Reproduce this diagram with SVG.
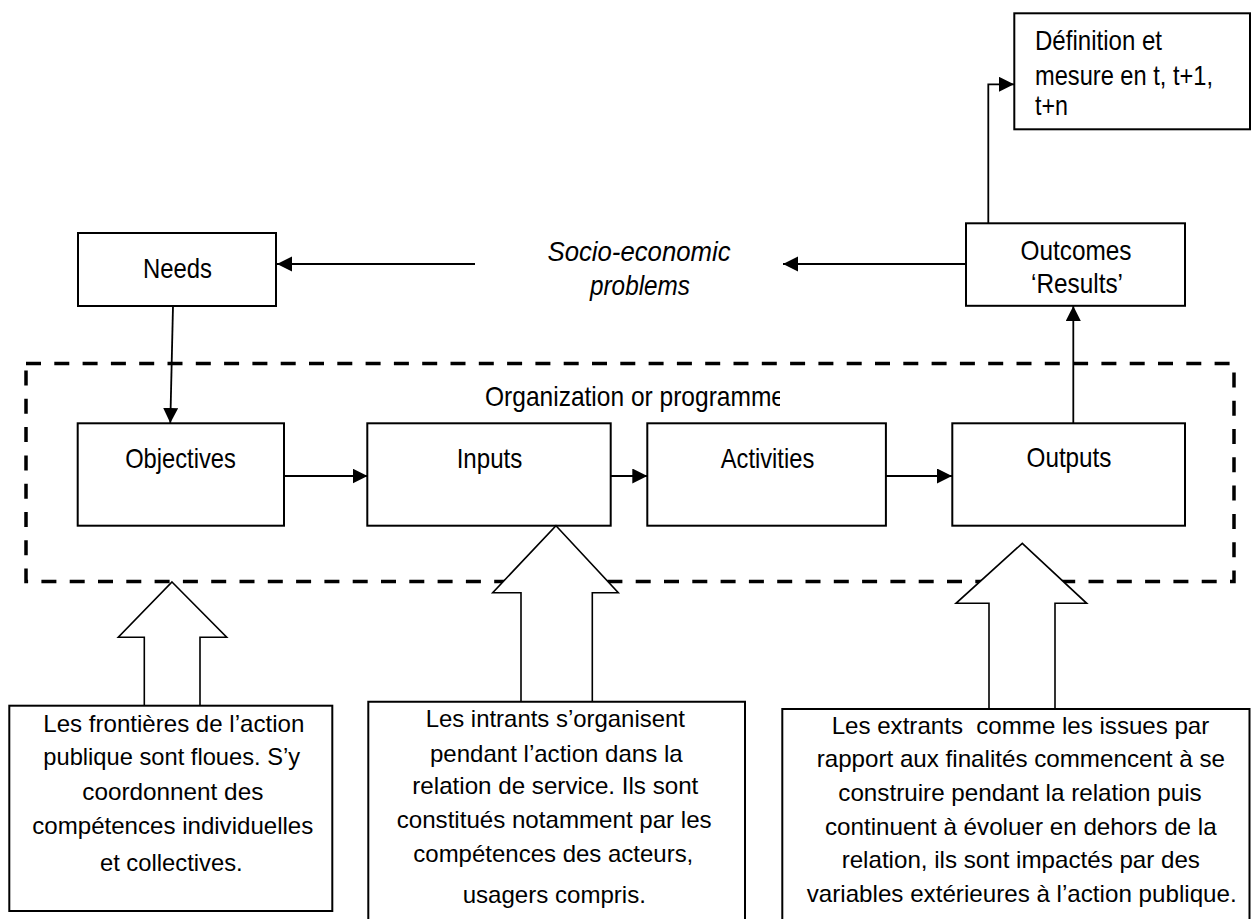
<svg xmlns="http://www.w3.org/2000/svg" width="1251" height="919" viewBox="0 0 1251 919">
<style>
.box{fill:#fff;stroke:#000;stroke-width:2}
.lbl{font-family:"Liberation Sans",Arial,sans-serif;font-size:28px;fill:#000;text-anchor:middle}
.txt{font-family:"Liberation Sans",Arial,sans-serif;font-size:24px;fill:#000;text-anchor:middle}
.con{fill:none;stroke:#000;stroke-width:1.8}
.blk{fill:#fff;stroke:#000;stroke-width:1.6;stroke-linejoin:miter}
</style>
<defs>
<marker id="ah" markerUnits="userSpaceOnUse" markerWidth="16" markerHeight="16" refX="15" refY="7.5" orient="auto"><path d="M0,0 L15,7.5 L0,15 Z" fill="#000"/></marker>
<clipPath id="orgclip"><rect x="0" y="370" width="780" height="50"/></clipPath>
</defs>
<rect width="1251" height="919" fill="#fff"/>

<g id="programme">
<rect x="26" y="363.5" width="1208" height="218" fill="none" stroke="#000" stroke-width="3.5" stroke-dasharray="15 13.3"/>
<text class="lbl" x="485" y="406" style="text-anchor:start" textLength="300" lengthAdjust="spacingAndGlyphs" clip-path="url(#orgclip)">Organization or programme</text>
</g>

<g id="connectors">
<path class="con" d="M475,264 H277" marker-end="url(#ah)"/>
<path class="con" d="M966,264 H783" marker-end="url(#ah)"/>
<path class="con" d="M173,306 L170.3,423" marker-end="url(#ah)"/>
<path class="con" d="M284,476 H367.5" marker-end="url(#ah)"/>
<path class="con" d="M611,476 H647.3" marker-end="url(#ah)"/>
<path class="con" d="M886,476 H952" marker-end="url(#ah)"/>
<path class="con" d="M1073.3,423 V306" marker-end="url(#ah)"/>
<path class="con" d="M988.3,223 V84.3 H1014" marker-end="url(#ah)"/>
</g>

<g id="needs">
<rect class="box" x="78" y="233" width="198" height="73"/>
<text class="lbl" x="177.5" y="277.7" textLength="69" lengthAdjust="spacingAndGlyphs">Needs</text>
</g>

<g id="socio">
<text class="lbl" x="639" y="261" font-style="italic" textLength="183" lengthAdjust="spacingAndGlyphs">Socio-economic</text>
<text class="lbl" x="640" y="295" font-style="italic" textLength="100" lengthAdjust="spacingAndGlyphs">problems</text>
</g>

<g id="outcomes">
<rect class="box" x="966" y="223.3" width="219" height="82.5"/>
<text class="lbl" x="1076" y="260" textLength="111" lengthAdjust="spacingAndGlyphs">Outcomes</text>
<text class="lbl" x="1077" y="292.7" textLength="92" lengthAdjust="spacingAndGlyphs">‘Results’</text>
</g>

<g id="definition">
<rect class="box" x="1014.3" y="13.3" width="235.7" height="116"/>
<text class="lbl" x="1035" y="50" style="text-anchor:start" font-size="27" textLength="127" lengthAdjust="spacingAndGlyphs">Définition et</text>
<text class="lbl" x="1035" y="84.5" style="text-anchor:start" font-size="27" textLength="178" lengthAdjust="spacingAndGlyphs">mesure en t, t+1,</text>
<text class="lbl" x="1035" y="115" style="text-anchor:start" font-size="27" textLength="33" lengthAdjust="spacingAndGlyphs">t+n</text>
</g>

<g id="objectives">
<rect class="box" x="77.7" y="423.3" width="206.3" height="102.4"/>
<text class="lbl" x="180.5" y="468" textLength="110.7" lengthAdjust="spacingAndGlyphs">Objectives</text>
</g>

<g id="inputs">
<rect class="box" x="367.3" y="423.3" width="243.4" height="102.4"/>
<text class="lbl" x="489.5" y="467.5" textLength="65.7" lengthAdjust="spacingAndGlyphs">Inputs</text>
</g>

<g id="activities">
<rect class="box" x="647.3" y="423.3" width="238.6" height="102.4"/>
<text class="lbl" x="767.5" y="467.5" textLength="93.5" lengthAdjust="spacingAndGlyphs">Activities</text>
</g>

<g id="outputs">
<rect class="box" x="952.3" y="423.3" width="232.7" height="102.4"/>
<text class="lbl" x="1069" y="467" textLength="85" lengthAdjust="spacingAndGlyphs">Outputs</text>
</g>

<g id="arrow-frontieres">
<polygon class="blk" points="172,582 226.7,637.3 200,637.3 200,705.7 144.3,705.7 144.3,637.3 118.3,637.3"/>
</g>
<g id="arrow-intrants">
<polygon class="blk" points="556,525.7 618.3,592.7 592.3,592.7 592.3,701.7 521,701.7 521,592.7 492.7,592.7"/>
</g>
<g id="arrow-extrants">
<polygon class="blk" points="1022.3,543.3 1086.7,603.3 1055,603.3 1055,709 989,709 989,603.3 956,603.3"/>
</g>

<g id="note-frontieres">
<rect class="box" x="9.3" y="705.7" width="323" height="205.3"/>
<text class="txt" x="173.8" y="731.7" textLength="261" lengthAdjust="spacingAndGlyphs">Les frontières de l’action</text>
<text class="txt" x="171.7" y="764.5" textLength="256.7" lengthAdjust="spacingAndGlyphs">publique sont floues. S’y</text>
<text class="txt" x="172.8" y="800" textLength="181" lengthAdjust="spacingAndGlyphs">coordonnent des</text>
<text class="txt" x="172.8" y="834" textLength="281" lengthAdjust="spacingAndGlyphs">compétences individuelles</text>
<text class="txt" x="171.3" y="870.7" textLength="142.7" lengthAdjust="spacingAndGlyphs">et collectives.</text>
</g>

<g id="note-intrants">
<path class="box" d="M368.3,925 V701.7 H745 V925"/>
<text class="txt" x="555.3" y="726.7" textLength="259.3" lengthAdjust="spacingAndGlyphs">Les intrants s’organisent</text>
<text class="txt" x="556.3" y="761.7" textLength="252.7" lengthAdjust="spacingAndGlyphs">pendant l’action dans la</text>
<text class="txt" x="555.3" y="794.3" textLength="286" lengthAdjust="spacingAndGlyphs">relation de service. Ils sont</text>
<text class="txt" x="554.2" y="828.3" textLength="315" lengthAdjust="spacingAndGlyphs">constitués notamment par les</text>
<text class="txt" x="553.3" y="861.7" textLength="280" lengthAdjust="spacingAndGlyphs">compétences des acteurs,</text>
<text class="txt" x="554.3" y="903.3" textLength="183.3" lengthAdjust="spacingAndGlyphs">usagers compris.</text>
</g>

<g id="note-extrants">
<path class="box" d="M782.3,925 V709 H1249.5 V925"/>
<text class="txt" x="1020.5" y="734" textLength="377.6" lengthAdjust="spacingAndGlyphs" xml:space="preserve">Les extrants  comme les issues par</text>
<text class="txt" x="1020.8" y="766.7" textLength="408.3" lengthAdjust="spacingAndGlyphs">rapport aux finalités commencent à se</text>
<text class="txt" x="1020" y="800.7" textLength="363.4" lengthAdjust="spacingAndGlyphs">construire pendant la relation puis</text>
<text class="txt" x="1020.8" y="835" textLength="391.7" lengthAdjust="spacingAndGlyphs">continuent à évoluer en dehors de la</text>
<text class="txt" x="1020.8" y="868.3" textLength="358.3" lengthAdjust="spacingAndGlyphs">relation, ils sont impactés par des</text>
<text class="txt" x="1021.7" y="901.7" textLength="430" lengthAdjust="spacingAndGlyphs">variables extérieures à l’action publique.</text>
</g>
</svg>
